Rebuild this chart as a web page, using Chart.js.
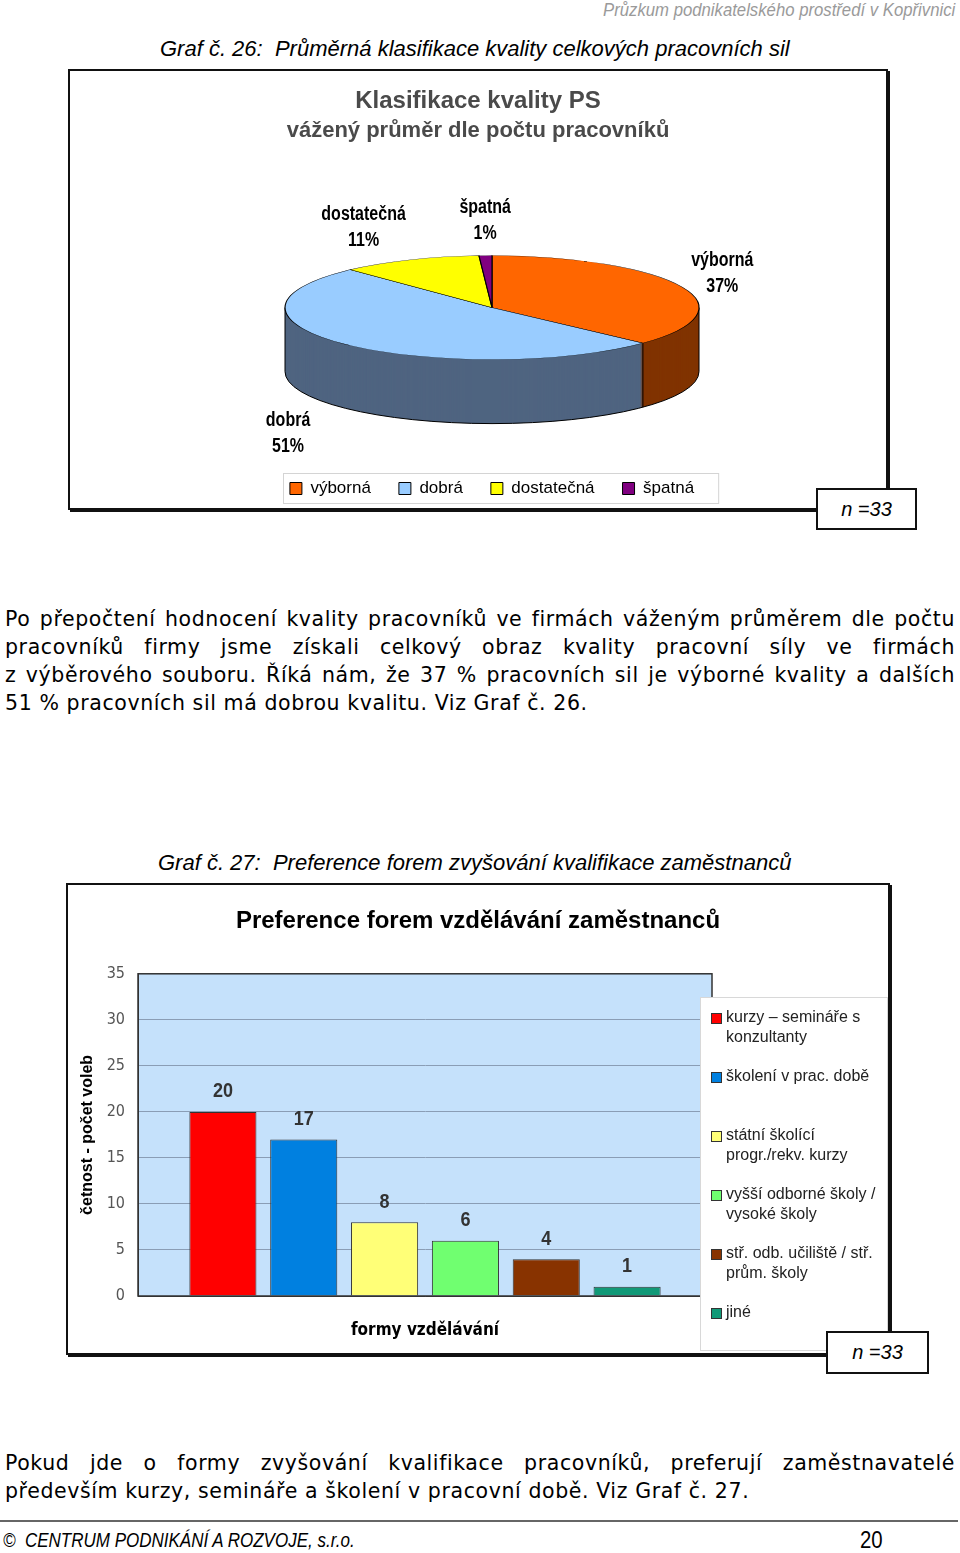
<!DOCTYPE html>
<html><head><meta charset="utf-8">
<script src="https://cdn.jsdelivr.net/npm/chart.js@4.4.1/dist/chart.umd.min.js"></script>
<style>
body{margin:0;width:960px;height:1553px;position:relative;background:#fff;overflow:hidden;font-family:"Liberation Sans",Arial,sans-serif}
.abs{position:absolute}
#hdr{right:5px;top:-1px;font:italic 19px "Liberation Sans",Arial,sans-serif;color:#9a9a9a;white-space:nowrap;transform:scaleX(0.88);transform-origin:right top}
.cap{font:italic 22px "Liberation Sans",Arial,sans-serif;color:#000;white-space:nowrap}
.frame{border:2px solid #111;box-shadow:2px 2px 0 #111;background:#fff}
.nbox{border:2px solid #111;background:#fff;font:italic 20px "Liberation Sans",Arial,sans-serif;display:flex;align-items:center;justify-content:center;box-sizing:border-box}
.para{left:5px;width:950px;font:20.5px "DejaVu Sans",sans-serif;letter-spacing:0.6px;color:#000}
.para div{height:28px;line-height:28px;white-space:nowrap}
.para .j{text-align:justify;text-align-last:justify;white-space:normal}
#foot{left:0;top:1520px;width:958px;height:0;border-top:2px solid #666}
.ft{font:italic 20px "Liberation Sans",Arial,sans-serif;white-space:nowrap;transform:scaleX(0.85);transform-origin:left top}
</style></head>
<body>
<div id="hdr" class="abs">Průzkum podnikatelského prostředí v Kopřivnici</div>
<div class="abs cap" style="left:160px;top:36px">Graf č. 26:&nbsp; Průměrná klasifikace kvality celkových pracovních sil</div>
<div class="abs frame" style="left:68px;top:69px;width:816px;height:437px"><canvas id="c1" width="816" height="437"></canvas></div>
<div class="abs nbox" style="left:816px;top:488px;width:101px;height:42px"><span><i>n</i> =33</span></div>

<div class="abs para" style="top:605px">
<div class="j">Po přepočtení hodnocení kvality pracovníků ve firmách váženým průměrem dle počtu</div>
<div class="j">pracovníků firmy jsme získali celkový obraz kvality pracovní síly ve firmách</div>
<div class="j">z&nbsp;výběrového souboru. Říká nám, že 37&nbsp;% pracovních sil je výborné kvality a dalších</div>
<div>51 % pracovních sil má dobrou kvalitu. Viz Graf č. 26.</div>
</div>

<div class="abs cap" style="left:158px;top:850px">Graf č. 27:&nbsp; Preference forem zvyšování kvalifikace zaměstnanců</div>
<div class="abs frame" style="left:66px;top:883px;width:820px;height:468px"><canvas id="c2" width="820" height="468"></canvas></div>
<div class="abs nbox" style="left:826px;top:1331px;width:103px;height:43px"><span><i>n</i> =33</span></div>

<div class="abs para" style="top:1449px">
<div class="j">Pokud jde o formy zvyšování kvalifikace pracovníků, preferují zaměstnavatelé</div>
<div>především kurzy, semináře a školení v pracovní době. Viz Graf č. 27.</div>
</div>
<div id="foot" class="abs"></div>
<div class="abs ft" style="left:3px;top:1529px">©&nbsp; CENTRUM PODNIKÁNÍ A ROZVOJE, s.r.o.</div>
<div class="abs ft" style="left:860px;top:1526px;font-style:normal;font-size:24px">20</div>

<script>
// ---------- Chart 26 data ----------
const pieLabels = ['výborná', 'dobrá', 'dostatečná', 'špatná'];
const pieValues = [37, 51, 11, 1];
const pieColors = ['#FF6600', '#99CCFF', '#FFFF00', '#800080'];
const pieSideColors = ['#803300', '#4F6480', '#808000', '#400040'];

// ---------- Chart 27 data ----------
const formCategory = [''];
const formLabels = ['kurzy – semináře s konzultanty', 'školení v prac. době', 'státní školící progr./rekv. kurzy', 'vyšší odborné školy / vysoké školy', 'stř. odb. učiliště / stř. prům. školy', 'jiné'];
const formValues = [20, 17, 8, 6, 4, 1];
const formColors = ['#FF0000', '#0080E0', '#FFFF77', '#70FF70', '#883300', '#119977'];

Chart.defaults.font.family = '"Liberation Sans", Arial, sans-serif';

function narrowText(ctx, text, x, y, sx) {
  ctx.save();
  ctx.translate(x, y);
  ctx.scale(sx, 1);
  ctx.fillText(text, 0, 0);
  ctx.restore();
}

// ---- 3D pie look ----
const RX = 207, RY = 52, DEPTH = 64, NARROW = 0.8;
const pie3d = {
  id: 'pie3d',
  afterLayout(chart) {
    // centre the title and subtitle across the whole canvas
    chart.boxes.forEach(b => {
      if (b !== chart.legend && b.options && b.options.text !== undefined) {
        b.left = 0; b.right = chart.width; b.width = chart.width;
      }
    });
  },
  beforeDatasetsDraw(chart) {
    const meta = chart.getDatasetMeta(0);
    const a0 = meta.data[0];
    const cx = a0.x, cy = a0.y, r = a0.outerRadius;
    const sx = RX / r, sy = RY / r;
    const ctx = chart.ctx;
    for (let i = DEPTH; i >= 1; i--) {
      ctx.save();
      ctx.translate(cx, cy + i);
      ctx.scale(sx, sy);
      meta.data.forEach((arc, k) => {
        ctx.beginPath();
        ctx.moveTo(0, 0);
        ctx.arc(0, 0, r, arc.startAngle, arc.endAngle);
        ctx.closePath();
        ctx.fillStyle = pieSideColors[k];
        ctx.fill();
      });
      ctx.restore();
    }
    ctx.save();
    ctx.strokeStyle = '#000';
    ctx.lineWidth = 1;
    ctx.beginPath();
    ctx.ellipse(cx, cy + DEPTH, RX, RY, 0, 0, Math.PI);
    ctx.stroke();
    ctx.beginPath();
    ctx.moveTo(cx + RX, cy); ctx.lineTo(cx + RX, cy + DEPTH);
    ctx.moveTo(cx - RX, cy); ctx.lineTo(cx - RX, cy + DEPTH);
    meta.data.forEach(arc => {
      let a = arc.startAngle % (2 * Math.PI);
      if (a < 0) a += 2 * Math.PI;
      if (a > 0 && a < Math.PI) {
        const px = cx + RX * Math.cos(a), py = cy + RY * Math.sin(a);
        ctx.moveTo(px, py); ctx.lineTo(px, py + DEPTH);
      }
    });
    ctx.stroke();
    ctx.restore();
    ctx.save();
    ctx.translate(cx, cy);
    ctx.scale(sx, sy);
    ctx.translate(-cx, -cy);
  },
  afterDatasetsDraw(chart) {
    const ctx = chart.ctx;
    ctx.restore();
    const meta = chart.getDatasetMeta(0);
    const cx = meta.data[0].x, cy = meta.data[0].y;
    ctx.save();
    ctx.font = 'bold 20px "Liberation Sans", Arial, sans-serif';
    ctx.fillStyle = '#000';
    ctx.textAlign = 'center';
    ctx.textBaseline = 'middle';
    meta.data.forEach((arc, k) => {
      const mid = (arc.startAngle + arc.endAngle) / 2;
      const c = Math.cos(mid), s = Math.sin(mid);
      const x = cx + (RX + (s > 0 ? 50 : 10)) * c;
      const y = cy + (RY + 35) * s + (s > 0 ? DEPTH : 0);
      const t1 = pieLabels[k], t2 = pieValues[k] + '%';
      const w = NARROW * Math.max(ctx.measureText(t1).width, ctx.measureText(t2).width);
      let mx = x;
      if (Math.abs(c) >= 0.2) mx = c > 0 ? x + w / 2 : x - w / 2;
      narrowText(ctx, t1, mx, y - 13, NARROW);
      narrowText(ctx, t2, mx, y + 13, NARROW);
    });
    ctx.restore();
  }
};
const legendBox = {
  id: 'legendBox',
  afterDraw(chart) {
    const hb = chart.legend.legendHitBoxes;
    if (!hb || !hb.length) return;
    const l = hb[0].left - 7, r = hb[hb.length - 1].left + hb[hb.length - 1].width + 24;
    const t = hb[0].top - 7, b = hb[0].top + hb[0].height + 6;
    const ctx = chart.ctx;
    ctx.save();
    ctx.strokeStyle = '#d4d4d4';
    ctx.lineWidth = 1;
    ctx.strokeRect(Math.round(l) + 0.5, Math.round(t) + 0.5, r - l, b - t);
    ctx.restore();
  }
};

new Chart(document.getElementById('c1'), {
  type: 'pie',
  data: {
    labels: pieLabels,
    datasets: [{ data: pieValues, backgroundColor: pieColors, borderColor: '#000', borderWidth: 0.8 }]
  },
  options: {
    responsive: false,
    animation: false,
    layout: { padding: { left: 28, right: 0, top: 0, bottom: 1 } },
    plugins: {
      title: { display: true, text: 'Klasifikace kvality PS', color: '#4a4a4a', font: { size: 24, weight: 'bold' }, padding: { top: 16, bottom: 0 } },
      subtitle: { display: true, text: 'vážený průměr dle počtu pracovníků', color: '#4a4a4a', font: { size: 22, weight: 'bold' }, padding: { top: 2, bottom: 19 } },
      legend: {
        position: 'bottom',
        labels: { color: '#000', font: { size: 17 }, boxWidth: 12, boxHeight: 12, padding: 28,
          generateLabels(chart) {
            return pieLabels.map((t, i) => ({ text: t, fillStyle: pieColors[i], strokeStyle: '#000', lineWidth: 1, index: i, hidden: false }));
          } }
      },
      tooltip: { enabled: false }
    }
  },
  plugins: [pie3d, legendBox]
});

// ---- Chart 27 ----
const plotDeco = {
  id: 'plotDeco',
  beforeDraw(chart) {
    const a = chart.chartArea, ctx = chart.ctx;
    ctx.save();
    ctx.fillStyle = '#C5E1FB';
    ctx.fillRect(a.left, a.top, a.right - a.left, a.bottom - a.top);
    ctx.restore();
  },
  afterDatasetsDraw(chart) {
    const a = chart.chartArea, ctx = chart.ctx;
    ctx.save();
    ctx.strokeStyle = '#333';
    ctx.lineWidth = 1.5;
    ctx.strokeRect(a.left, a.top, a.right - a.left, a.bottom - a.top);
    ctx.font = 'bold 20px "Liberation Sans", Arial, sans-serif';
    ctx.fillStyle = '#333';
    ctx.textAlign = 'center';
    ctx.textBaseline = 'middle';
    chart.data.datasets.forEach((ds, i) => {
      const bar = chart.getDatasetMeta(i).data[0];
      narrowText(ctx, String(ds.data[0]), bar.x, bar.y - 20, 0.9);
    });
    ctx.restore();
  },
  afterDraw(chart) {
    const a = chart.chartArea, ctx = chart.ctx;
    const left = a.right - 12, top = 112, w = 187, h = chart.height - top - 3;
    ctx.save();
    ctx.fillStyle = '#fff';
    ctx.fillRect(left, top, w, h);
    ctx.strokeStyle = '#d8d8d8';
    ctx.lineWidth = 1;
    ctx.strokeRect(left + 0.5, top + 0.5, w, h);
    ctx.font = '16px "Liberation Sans", Arial, sans-serif';
    ctx.textBaseline = 'middle';
    chart.data.datasets.forEach((ds, i) => {
      const y = top + 21 + i * 59;
      ctx.fillStyle = ds.backgroundColor;
      ctx.fillRect(left + 11, y - 5, 10, 10);
      ctx.strokeStyle = '#333';
      ctx.strokeRect(left + 11.5, y - 4.5, 10, 10);
      const words = ds.label.split(' ');
      const lines = [];
      let cur = '';
      words.forEach(wd => {
        const test = cur ? cur + ' ' + wd : wd;
        if (ctx.measureText(test).width > 160 && cur) { lines.push(cur); cur = wd; } else cur = test;
      });
      lines.push(cur);
      ctx.fillStyle = '#222';
      lines.forEach((ln, j) => ctx.fillText(ln, left + 26, y + j * 20));
    });
    ctx.restore();
  }
};

new Chart(document.getElementById('c2'), {
  type: 'bar',
  data: {
    labels: formCategory,
    datasets: formLabels.map((l, i) => ({
      label: l, data: [formValues[i]], backgroundColor: formColors[i], borderColor: '#333', borderWidth: 1,
      categoryPercentage: 0.845, barPercentage: 0.83
    }))
  },
  options: {
    responsive: false,
    animation: false,
    layout: { padding: 0 },
    plugins: {
      legend: { display: false },
      tooltip: { enabled: false },
      title: { display: true, text: 'Preference forem vzdělávání zaměstnanců', color: '#000', font: { size: 24, weight: 'bold' }, padding: { top: 22, bottom: 38 } }
    },
    scales: {
      x: {
        grid: { display: false },
        border: { display: true, color: '#333' },
        ticks: { display: false },
        title: { display: true, text: 'formy vzdělávání', color: '#000', font: { size: 17, weight: 'bold', family: '"DejaVu Sans Condensed", sans-serif' }, padding: { top: 0, bottom: 12 } },
        afterFit(s) { s.height = 57; }
      },
      y: {
        min: 0, max: 35,
        ticks: { stepSize: 5, color: '#555', padding: 13, font: { size: 16, family: '"DejaVu Sans Condensed", sans-serif' } },
        grid: { color: '#8A9DB5', drawTicks: false },
        border: { display: true, color: '#333' },
        title: { display: true, text: 'četnost - počet voleb', color: '#000', font: { size: 16, weight: 'bold' }, padding: { top: 10, bottom: 0 } },
        afterFit(s) { s.width = 70; }
      },
      yRight: {
        position: 'right',
        min: 0, max: 35,
        grid: { display: false },
        border: { display: false },
        ticks: { display: false },
        afterFit(s) { s.width = 176; }
      }
    }
  },
  plugins: [plotDeco]
});
</script>
</body></html>
